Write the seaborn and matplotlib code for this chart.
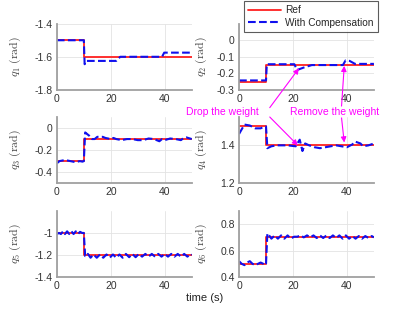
import numpy as np
import pandas as pd
import seaborn as sns
import matplotlib.pyplot as plt

# reference steps (weight change at t = 10 s)
t_ref = [0, 10, 10, 50]
q1_ref = [-1.5, -1.5, -1.6, -1.6]
q2_ref = [-0.25, -0.25, -0.15, -0.15]
q3_ref = [-0.3, -0.3, -0.1, -0.1]
q4_ref = [1.5, 1.5, 1.4, 1.4]
q5_ref = [-1.0, -1.0, -1.2, -1.2]
q6_ref = [0.5, 0.5, 0.7, 0.7]

# with compensation
t1 = [0, 10, 10.3, 11, 22, 23.5, 39, 39.8, 50]
q1_comp = [-1.5, -1.5, -1.645, -1.625, -1.625, -1.6, -1.6, -1.575, -1.575]

t2 = [0, 10, 10.3, 20.5, 21.5, 24, 27, 38.5, 39.5, 41, 43, 50]
q2_comp = [-0.243, -0.243, -0.145, -0.145, -0.18, -0.165, -0.15, -0.15, -0.122, -0.125, -0.143, -0.143]

t3 = [0, 1, 3, 5, 7, 8.5, 9.5, 10, 10.5, 11, 12, 13, 14, 15, 17, 18, 20, 21, 22, 24, 26, 28,
      30, 32, 34, 36, 38, 39, 40, 42, 44, 46, 47, 48, 50]
q3_comp = [-0.32, -0.3, -0.29, -0.3, -0.31, -0.3, -0.305, -0.3, -0.04, -0.05, -0.07, -0.1, -0.1,
           -0.08, -0.08, -0.09, -0.1, -0.09, -0.1, -0.11, -0.1, -0.1, -0.11, -0.11, -0.095, -0.1,
           -0.12, -0.1, -0.11, -0.095, -0.1, -0.11, -0.09, -0.085, -0.1]

t4 = [0, 2, 4, 6, 8, 9.5, 10, 10.5, 12, 14, 18, 21, 22.5, 23.5, 24.5, 26, 28, 30, 32, 34, 36,
      38, 40, 42, 43, 45, 46, 48, 50]
q4_comp = [1.46, 1.51, 1.505, 1.49, 1.49, 1.5, 1.5, 1.385, 1.395, 1.4, 1.4, 1.395, 1.43, 1.37,
           1.41, 1.4, 1.39, 1.385, 1.39, 1.395, 1.4, 1.395, 1.39, 1.405, 1.42, 1.41, 1.395, 1.4, 1.41]

t5 = [0, 0.8, 1.5, 2.3, 3, 3.8, 4.6, 5.4, 6.2, 7, 7.8, 8.6, 9.4, 10, 10.5, 11, 11.5, 12.5, 13.6,
      14.8, 16, 17.2, 18.4, 19.6, 20.8, 22, 23.2, 24.4, 25.6, 26.8, 28, 29.2, 30.4, 31.6, 32.8,
      34, 35.2, 36.4, 37.6, 38.8, 40, 41.2, 42.4, 43.6, 44.8, 46, 47.2, 48.4, 49.6, 50]
q5_comp = [-1.01, -1.0, -1.01, -0.985, -1.01, -0.985, -1.01, -0.985, -1.01, -0.985, -1.01, -0.99,
           -1.0, -1.0, -1.21, -1.21, -1.19, -1.225, -1.195, -1.225, -1.195, -1.225, -1.195,
           -1.225, -1.195, -1.225, -1.195, -1.225, -1.19, -1.22, -1.19, -1.22, -1.19, -1.215,
           -1.19, -1.215, -1.19, -1.215, -1.19, -1.215, -1.19, -1.215, -1.19, -1.215, -1.19,
           -1.215, -1.19, -1.215, -1.19, -1.2]

t6 = [0, 1, 2, 3, 4, 5, 6, 7, 8, 9, 9.7, 10, 10.5, 11, 12, 13.2, 14.4, 15.6, 16.8, 18, 19.2,
      20.4, 21.6, 22.8, 24, 25.2, 26.4, 27.6, 28.8, 30, 31.2, 32.4, 33.6, 34.8, 36, 37.2, 38.4,
      39.6, 40.8, 42, 43.2, 44.4, 45.6, 46.8, 48, 49.2, 50]
q6_comp = [0.52, 0.5, 0.49, 0.51, 0.52, 0.5, 0.49, 0.5, 0.51, 0.5, 0.49, 0.5, 0.73, 0.72, 0.69,
           0.715, 0.69, 0.715, 0.69, 0.715, 0.69, 0.705, 0.705, 0.715, 0.7, 0.715, 0.7, 0.715,
           0.695, 0.715, 0.695, 0.715, 0.695, 0.715, 0.695, 0.715, 0.69, 0.715, 0.69, 0.71, 0.69,
           0.71, 0.69, 0.71, 0.695, 0.71, 0.7]

ylims = [(-1.8, -1.4), (-0.3, 0.1), (-0.5, 0.1), (1.2, 1.55), (-1.4, -0.8), (0.4, 0.9)]
yticks = [[-1.8, -1.6, -1.4], [-0.3, -0.2, -0.1, 0], [-0.4, -0.2, 0], [1.2, 1.4],
          [-1.4, -1.2, -1], [0.4, 0.6, 0.8]]
ytick_labels = [['-1.8', '-1.6', '-1.4'], ['-0.3', '-0.2', '-0.1', '0'], ['-0.4', '-0.2', '0'],
                ['1.2', '1.4'], ['-1.4', '-1.2', '-1'], ['0.4', '0.6', '0.8']]

sns.set_theme(style='whitegrid')
plt.rcParams['font.family'] = ['Liberation Sans', 'DejaVu Sans']
plt.rcParams['mathtext.fontset'] = 'cm'

fig = plt.figure(figsize=(4.15, 3.12), dpi=100)

lefts = [0.137, 0.576]
bottoms = [0.712, 0.413, 0.112]
w, h = 0.325, 0.212

refs = [q1_ref, q2_ref, q3_ref, q4_ref, q5_ref, q6_ref]
comps = [(t1, q1_comp), (t2, q2_comp), (t3, q3_comp), (t4, q4_comp), (t5, q5_comp), (t6, q6_comp)]

axes = []
for i in range(6):
    row, col = i // 2, i % 2
    ax = fig.add_axes([lefts[col], bottoms[row], w, h])
    axes.append(ax)
    sns.lineplot(x=t_ref, y=refs[i], ax=ax, color='#ff2020', lw=1.3, estimator=None, sort=False,
                 legend=False)
    tc, qc = comps[i]
    sns.lineplot(x=tc, y=qc, ax=ax, color='#1010ee', lw=1.5, ls='--', dashes=(4, 2.5),
                 estimator=None, sort=False, legend=False)
    ax.set_xlim(0, 50)
    ax.set_ylim(*ylims[i])
    ax.set_xticks([0, 20, 40])
    ax.set_yticks(yticks[i])
    ax.set_yticklabels(ytick_labels[i])
    ax.tick_params(labelsize=7.5, colors='#333333', length=0, pad=3)
    ax.grid(True, color='#e3e3e3', lw=0.6)
    for s in ['top', 'right']:
        ax.spines[s].set_visible(False)
    for s in ['left', 'bottom']:
        ax.spines[s].set_color('#a0a0a0')
        ax.spines[s].set_linewidth(1.3)
    ax.set_xlabel('')
    ax.set_ylabel(r'$q_%d\ \mathrm{(rad)}$' % (i + 1), fontsize=8.5, color='#444444')
    ax.yaxis.set_label_coords(-0.25 if col == 0 else -0.22, 0.5)

leg = axes[1].legend(handles=axes[1].get_lines(), labels=['Ref', 'With Compensation'],
                     loc='lower right', bbox_to_anchor=(1.03, 0.88), borderaxespad=0,
                     fontsize=7.3, frameon=True, fancybox=False, handlelength=3.3,
                     borderpad=0.4, labelspacing=0.25, handletextpad=0.4)
leg.get_frame().set_edgecolor('#333333')
leg.get_frame().set_linewidth(0.8)

fig.text(0.494, 0.045, 'time (s)', ha='center', va='center', fontsize=8, color='#222222')

# annotations
mag = '#ff00ff'
fig.text(0.535, 0.641, 'Drop the weight', ha='center', va='center', fontsize=7.5, color=mag)
fig.text(0.805, 0.641, 'Remove the weight', ha='center', va='center', fontsize=7.5, color=mag)
arrow = dict(arrowstyle='-|>', color=mag, lw=0.8, mutation_scale=8, shrinkA=0, shrinkB=0)
axes[1].annotate('', xy=(22.2, -0.17), xycoords='data', xytext=(0.65, 0.655),
                 textcoords='figure fraction', arrowprops=arrow)
axes[3].annotate('', xy=(21.8, 1.4), xycoords='data', xytext=(0.65, 0.625),
                 textcoords='figure fraction', arrowprops=arrow)
axes[1].annotate('', xy=(39.0, -0.155), xycoords='data', xytext=(0.823, 0.66),
                 textcoords='figure fraction', arrowprops=arrow)
axes[3].annotate('', xy=(39.0, 1.415), xycoords='data', xytext=(0.823, 0.622),
                 textcoords='figure fraction', arrowprops=arrow)

fig.savefig('out.png', dpi=100)
